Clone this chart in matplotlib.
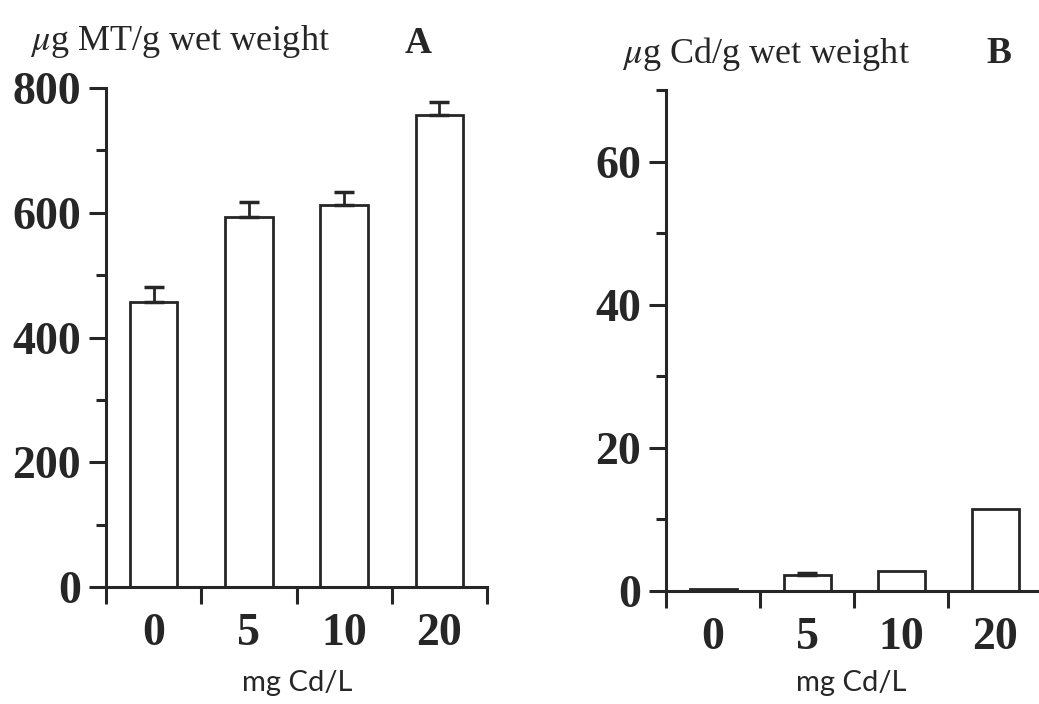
import matplotlib.pyplot as plt
import numpy as np

# Metallothionein (A) and cadmium (B) in tissue after Cd exposure
conc_labels = ["0", "5", "10", "20"]
mt_mean = [457, 593, 613, 757]
mt_sem = [24, 24, 21, 21]
cd_mean = [0.3, 2.2, 2.8, 11.4]
cd_sem = [0.0, 0.3, 0.0, 0.0]

INK = "#262626"
W, H = 1039, 704

plt.rcParams["mathtext.fontset"] = "stix"
plt.rcParams["font.family"] = "Liberation Serif"

fig = plt.figure(figsize=(W / 100, H / 100), dpi=100)


def px_axes(left, right, bottom, top):
    # pixel box (origin top-left) -> figure fraction
    return fig.add_axes([left / W, 1 - bottom / H, (right - left) / W, (bottom - top) / H])


def draw_panel(ax, means, sems, ymax, major, minor):
    x = np.arange(len(means))
    means = np.asarray(means, dtype=float)
    sems = np.asarray(sems, dtype=float)
    ax.bar(x, means, width=0.5, color="white", edgecolor=INK, linewidth=2.0, zorder=2)
    has_err = sems > 0
    ax.errorbar(x[has_err], means[has_err], yerr=[np.zeros(has_err.sum()), sems[has_err]],
                fmt="none", ecolor=INK, elinewidth=2.0, capsize=7, capthick=2.5, zorder=3)
    ax.set_xlim(-0.5, len(means) - 0.5)
    ax.set_ylim(0, ymax)
    ax.set_yticks(major)
    ax.set_yticks(minor, minor=True)
    ax.set_xticks(x)
    ax.set_xticklabels(conc_labels)
    ax.set_xticks(np.arange(-0.5, len(means)), minor=True)
    for side in ("top", "right"):
        ax.spines[side].set_visible(False)
    for side in ("left", "bottom"):
        ax.spines[side].set_linewidth(2.2)
        ax.spines[side].set_color(INK)
    ax.tick_params(axis="y", which="major", direction="out", length=12, width=2.2,
                   color=INK, pad=6, labelsize=33, labelcolor=INK)
    ax.tick_params(axis="y", which="minor", direction="out", length=7, width=2.2, color=INK)
    ax.tick_params(axis="x", which="major", length=0, pad=19, labelsize=33, labelcolor=INK)
    ax.tick_params(axis="x", which="minor", direction="out", length=12, width=2.2, color=INK)
    for lab in ax.get_xticklabels() + ax.get_yticklabels():
        lab.set_fontweight("bold")
    ax.patch.set_alpha(0)


ax_a = px_axes(106, 487, 587, 88)
draw_panel(ax_a, mt_mean, mt_sem, 800, np.arange(0, 801, 200), np.arange(100, 800, 200))

ax_b = px_axes(666, 1042, 591, 90)
draw_panel(ax_b, cd_mean, cd_sem, 70, np.arange(0, 61, 20), np.arange(10, 71, 20))

# axis titles and panel letters
fig.text(30 / W, 1 - 50 / H, r"$\mu$g MT/g wet weight", fontsize=26, color=INK,
         ha="left", va="baseline")
fig.text(405 / W, 1 - 53 / H, "A", fontsize=27, fontweight="bold", color=INK,
         ha="left", va="baseline")
fig.text(622 / W, 1 - 63 / H, r"$\mu$g Cd/g wet weight", fontsize=26, color=INK,
         ha="left", va="baseline")
fig.text(986 / W, 1 - 63 / H, "B", fontsize=27, fontweight="bold", color=INK,
         ha="left", va="baseline")

for cx in (297, 851):
    fig.text(cx / W, 1 - 683 / H, "mg Cd/L", fontsize=21, color=INK,
             family="Lato", ha="center", va="center")

fig.savefig("out.png", dpi=100, facecolor="white")
